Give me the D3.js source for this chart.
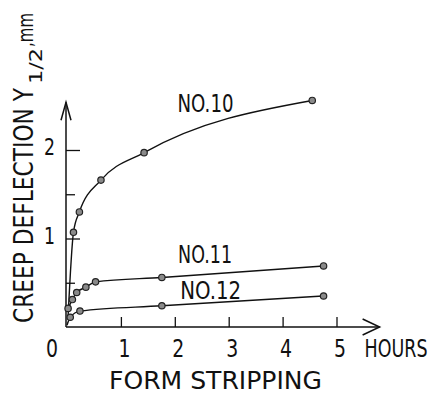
<!DOCTYPE html>
<html>
<head>
<meta charset="utf-8">
<script src="https://cdn.jsdelivr.net/npm/d3@7"></script>
<style>
	body { margin: 0; background: #fff; }
	svg text { font-family: "DejaVu Sans", sans-serif; fill: #111; }
</style>
</head>
<body>
<div id="chart"></div>
<script>
// hours after form stripping vs creep deflection (mm)
const no10Hours = [0.02, 0.12, 0.23, 0.63, 1.43, 4.55];
const no10Values = [0.12, 1.07, 1.30, 1.66, 1.97, 2.56];
const no11Hours = [0.02, 0.10, 0.18, 0.35, 0.53, 1.76, 4.76];
const no11Values = [0.21, 0.31, 0.39, 0.45, 0.51, 0.56, 0.69];
const no12Hours = [0.00, 0.06, 0.24, 1.76, 4.76];
const no12Values = [0.02, 0.11, 0.18, 0.24, 0.35];
const seriesNames = ['NO.10', 'NO.11', 'NO.12'];
const xTicks = [1, 2, 3, 4, 5];
const yMajorTicks = [1, 2];
const yMinorTicks = [0.5, 1.5];

const width = 434;
const height = 394;

const series = [
	{ name: seriesNames[0], hours: no10Hours, values: no10Values, skipFirst: true, label: [2.05, 2.43], len: 56 },
	{ name: seriesNames[1], hours: no11Hours, values: no11Values, skipFirst: false, label: [2.06, 0.72], len: 54 },
	{ name: seriesNames[2], hours: no12Hours, values: no12Values, skipFirst: true, label: [2.10, 0.32], len: 61 },
];

const svg = d3.select('#chart').append('svg')
	.attr('width', width)
	.attr('height', height);

const xScale = d3.scaleLinear().domain([0, 5]).range([67, 336.5]);
const yScale = d3.scaleLinear().domain([0, 2]).range([327, 150]);

const ink = '#111';

// squeeze text to the narrow lettering of the original
const narrow = (sel, len) => sel.attr('textLength', len).attr('lengthAdjust', 'spacingAndGlyphs');

// x axis: ticks point up into the plot
const xAxis = d3.axisBottom(xScale)
	.tickValues(xTicks)
	.tickSizeInner(-10)
	.tickSizeOuter(0)
	.tickFormat(d3.format('d'));

const gx = svg.append('g')
	.attr('transform', `translate(0,${yScale(0)})`)
	.call(xAxis);
gx.select('.domain').remove();
gx.selectAll('.tick line').attr('stroke', ink).attr('stroke-width', 1.3);
gx.selectAll('.tick text')
	.attr('y', 30).attr('dy', null).attr('dx', 3)
	.style('font-size', '25px')
	.call(narrow, 12);

// y axis: major and minor ticks point right
const yAxisMajor = d3.axisLeft(yScale)
	.tickValues(yMajorTicks)
	.tickSizeInner(-14)
	.tickSizeOuter(0)
	.tickPadding(11)
	.tickFormat(d3.format('d'));
const yAxisMinor = d3.axisLeft(yScale)
	.tickValues(yMinorTicks)
	.tickSizeInner(-9)
	.tickSizeOuter(0)
	.tickFormat('');

const gyMinor = svg.append('g')
	.attr('transform', `translate(${xScale(0) - 1},0)`)
	.call(yAxisMinor);
const gy = svg.append('g')
	.attr('transform', `translate(${xScale(0) - 1},0)`)
	.call(yAxisMajor);
[gy, gyMinor].forEach(g => {
	g.select('.domain').remove();
	g.selectAll('.tick line').attr('stroke', ink).attr('stroke-width', 1.3);
});
gy.selectAll('.tick text')
	.attr('dy', '0.2em')
	.style('font-size', '23px')
	.call(narrow, 11);

// axis lines with open arrow heads
const axes = svg.append('g')
	.attr('fill', 'none')
	.attr('stroke', ink)
	.attr('stroke-width', 1.5);
const ox = xScale(0) - 1;
const oy = yScale(0);
const yTop = yScale(2.54);
const xEnd = xScale(5.8);
axes.append('path').attr('d', `M${ox},${oy}V${yTop}`);
axes.append('path').attr('d', `M${ox - 5},${yTop + 18}L${ox},${yTop}L${ox + 5},${yTop + 18}`);
axes.append('path').attr('d', `M${ox},${oy}H${xEnd}`);
axes.append('path').attr('d', `M${xEnd - 17},${oy - 8}L${xEnd},${oy}L${xEnd - 17},${oy + 8}`);

svg.append('text')
	.attr('x', ox - 14)
	.attr('y', oy + 30)
	.attr('text-anchor', 'middle')
	.style('font-size', '25px')
	.call(narrow, 12)
	.text('0');

// unit label, squeezed with a transform so its box stays inside the page
svg.append('text')
	.attr('transform', `translate(${xEnd - 15},${oy + 30}) scale(0.7,1)`)
	.style('font-size', '25px')
	.text('HOURS');

svg.append('text')
	.attr('x', 109)
	.attr('y', 389)
	.style('font-size', '24px')
	.call(narrow, 213)
	.text('FORM STRIPPING');

// vertical title: main part, subscript, unit
svg.append('text')
	.attr('transform', 'translate(33,323) rotate(-90)')
	.style('font-size', '26px')
	.call(narrow, 235)
	.text('CREEP DEFLECTION Y');
svg.append('text')
	.attr('transform', 'translate(42,84) rotate(-90)')
	.style('font-size', '17px')
	.call(narrow, 36)
	.text('1/2');
svg.append('text')
	.attr('transform', 'translate(33,47) rotate(-90)')
	.style('font-size', '21px')
	.call(narrow, 34)
	.text(',mm');

// curves and markers
const line = d3.line()
	.x(d => xScale(d[0]))
	.y(d => yScale(d[1]))
	.curve(d3.curveMonotoneX);

series.forEach(s => {
	const pts = s.hours.map((h, i) => [h, s.values[i]]);
	svg.append('path')
		.attr('d', line(pts))
		.attr('fill', 'none')
		.attr('stroke', ink)
		.attr('stroke-width', 1.4);

	svg.selectAll(null)
		.data(s.skipFirst ? pts.slice(1) : pts)
		.enter()
		.append('circle')
		.attr('cx', d => xScale(d[0]))
		.attr('cy', d => yScale(d[1]))
		.attr('r', 3.2)
		.attr('fill', '#8a8a8a')
		.attr('stroke', '#222')
		.attr('stroke-width', 1.2);

	svg.append('text')
		.attr('x', xScale(s.label[0]))
		.attr('y', yScale(s.label[1]))
		.style('font-size', '25px')
		.call(narrow, s.len)
		.text(s.name);
});
</script>
</body>
</html>
